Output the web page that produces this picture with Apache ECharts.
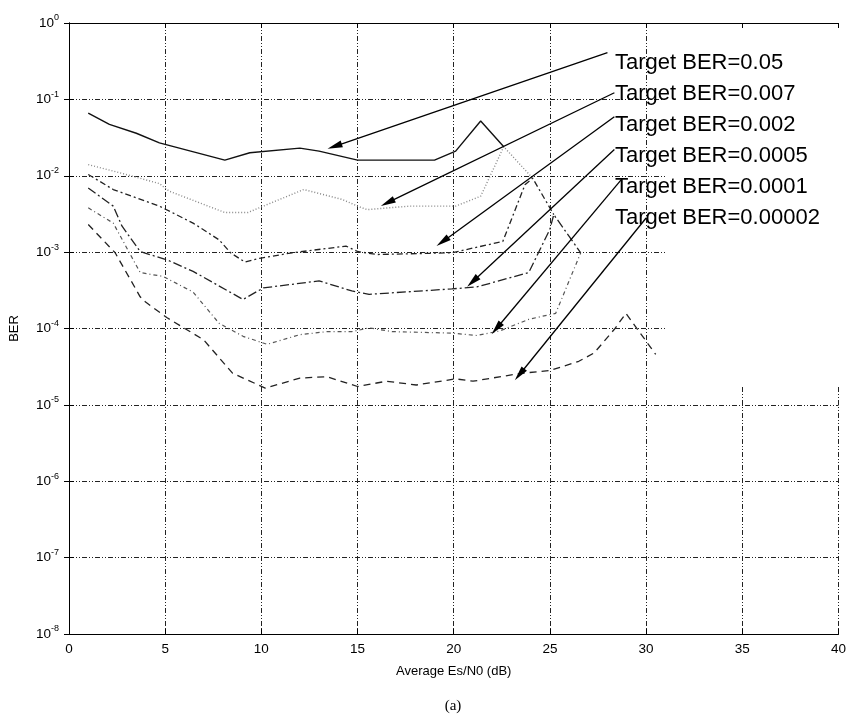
<!DOCTYPE html>
<html>
<head>
<meta charset="utf-8">
<script src="https://cdn.jsdelivr.net/npm/echarts@6/dist/echarts.min.js"></script>
<style>
  html, body { margin: 0; padding: 0; background: #fff; }
  #chart { width: 849px; height: 715px; }
</style>
</head>
<body>
<div id="chart"></div>
<script>
// BER vs average Es/N0, one curve per target BER
const ber005X = [1.0, 2.1, 3.5, 4.7, 8.1, 9.4, 12.0, 13.0, 15.0, 17.3, 19.0, 20.1, 21.4, 22.6];
const ber005Y = [0.066, 0.047, 0.036, 0.027, 0.016, 0.020, 0.023, 0.021, 0.016, 0.016, 0.016, 0.021, 0.052, 0.024];

const ber0007X = [1.0, 2.6, 4.7, 5.2, 8.1, 9.3, 10.1, 12.2, 14.2, 15.0, 15.5, 17.7, 20.1, 21.4, 22.6, 24.1];
const ber0007Y = [0.014, 0.011, 0.0079, 0.0063, 0.0033, 0.0033, 0.0040, 0.0066, 0.0049, 0.0040, 0.0036, 0.0040, 0.0040, 0.0054, 0.024, 0.0093];

const ber0002X = [1.0, 2.3, 4.7, 6.45, 7.8, 8.4, 9.15, 9.9, 11.6, 14.4, 15.0, 16.0, 19.9, 22.55, 23.7, 24.1, 25.2];
const ber0002Y = [0.0104, 0.0066, 0.0040, 0.0024, 0.00145, 0.00098, 0.00074, 0.00083, 0.00098, 0.0012, 0.00102, 0.00093, 0.00098, 0.00138, 0.0076, 0.0093, 0.0031];

const ber00005X = [1.0, 2.3, 2.75, 3.7, 4.2, 5.1, 6.45, 9.05, 10.1, 13.0, 14.7, 15.6, 19.9, 21.2, 23.9, 25.0, 25.2, 26.6];
const ber00005Y = [0.0069, 0.0040, 0.0022, 0.00102, 0.00093, 0.00079, 0.00056, 0.00024, 0.00034, 0.00042, 0.00031, 0.00028, 0.00033, 0.00035, 0.00054, 0.0020, 0.0031, 0.00098];

const ber00001X = [1.0, 2.3, 3.7, 4.9, 6.45, 7.8, 9.05, 10.3, 12.0, 13.4, 14.7, 15.6, 16.8, 19.9, 21.2, 22.4, 23.9, 25.3, 26.6];
const ber00001Y = [0.0038, 0.0024, 0.00054, 0.00048, 0.00030, 0.000117, 0.000079, 0.000062, 0.000083, 0.000091, 0.000091, 0.000102, 0.000091, 0.000087, 0.000081, 0.000093, 0.000132, 0.000158, 0.00098];

const ber000002X = [1.0, 2.4, 3.7, 4.0, 5.1, 7.0, 8.5, 10.2, 12.0, 13.4, 15.0, 16.5, 18.05, 20.1, 21.0, 23.4, 25.0, 26.5, 27.3, 28.35, 28.95, 30.5];
const ber000002Y = [0.0023, 0.00098, 0.00026, 0.00022, 0.000138, 0.000071, 0.000026, 0.0000166, 0.0000224, 0.0000234, 0.0000174, 0.0000204, 0.0000182, 0.0000219, 0.0000204, 0.0000257, 0.0000282, 0.0000372, 0.0000479, 0.0000977, 0.000158, 0.0000457];

// annotation texts and arrows (tail near the text, head on the curve), in data units
const targetLabels = ['Target BER=0.05', 'Target BER=0.007', 'Target BER=0.002',
                      'Target BER=0.0005', 'Target BER=0.0001', 'Target BER=0.00002'];
const arrowFrom = [[27.99, 0.41], [28.35, 0.122], [28.35, 0.0594], [28.35, 0.022], [28.71, 0.0089], [30.0, 0.0028]];
const arrowTo = [[13.81, 0.0243], [16.56, 0.00445], [19.42, 0.00137], [20.98, 0.00041], [22.22, 0.0001], [23.42, 0.000025]];

const xTicks = { min: 0, max: 40, interval: 5 };

const FONT = 'Liberation Sans, Arial, Helvetica, sans-serif';
const GRID_DASH = [5, 2, 1, 2, 1, 2];

const zip = (xs, ys) => xs.map((x, i) => [x, ys[i]]);

const curves = [
  { x: ber005X, y: ber005Y, color: '#111', type: 'solid', width: 1.4 },
  { x: ber0007X, y: ber0007Y, color: '#888', type: [1, 2], width: 1.4 },
  { x: ber0002X, y: ber0002Y, color: '#222', type: [6, 3, 2, 3], width: 1.3 },
  { x: ber00005X, y: ber00005Y, color: '#222', type: [9, 3, 2, 3], width: 1.3 },
  { x: ber00001X, y: ber00001Y, color: '#555', type: [4, 3, 1, 3], width: 1.2 },
  { x: ber000002X, y: ber000002Y, color: '#222', type: [7, 5], width: 1.3 },
];

const series = curves.map(c => ({
  type: 'line',
  data: zip(c.x, c.y),
  symbol: 'none',
  silent: true,
  lineStyle: { color: c.color, width: c.width, type: c.type },
  z: 3,
}));

series.push({
  type: 'line',
  data: [],
  silent: true,
  markLine: {
    silent: true,
    symbol: ['none', 'triangle'],
    symbolSize: [7, 15],
    label: { show: false },
    lineStyle: { color: '#000', width: 1.3, type: 'solid' },
    data: arrowFrom.map((p, i) => [{ coord: p }, { coord: arrowTo[i] }]),
  },
  z: 4,
});

const supLabel = v => {
  const e = Math.round(Math.log10(v));
  return '{b|10}{s|' + e + '}';
};

const chart = echarts.init(document.getElementById('chart'), null, { renderer: 'canvas' });

chart.setOption({
  backgroundColor: '#fff',
  animation: false,
  grid: { left: 69, right: 10, top: 23, bottom: 81 },
  xAxis: [{
    type: 'value',
    min: xTicks.min, max: xTicks.max, interval: xTicks.interval,
    name: 'Average Es/N0 (dB)',
    nameLocation: 'middle',
    nameGap: 31,
    nameTextStyle: { fontFamily: FONT, fontSize: 13, color: '#000' },
    axisLine: { lineStyle: { color: '#000', width: 1 } },
    axisTick: { inside: true, length: 5, lineStyle: { color: '#000' } },
    axisLabel: { fontFamily: FONT, fontSize: 13.5, color: '#000', margin: 8 },
    splitLine: { show: true, lineStyle: { color: '#222', width: 1, type: GRID_DASH } },
    z: 0,
  }, {
    type: 'value', position: 'top',
    min: xTicks.min, max: xTicks.max, interval: xTicks.interval,
    axisLine: { show: true, onZero: false, lineStyle: { color: '#000', width: 1 } },
    axisTick: { inside: true, length: 5, lineStyle: { color: '#000' } },
    axisLabel: { show: false },
    splitLine: { show: false },
    z: 6,
  }],
  yAxis: [{
    type: 'log', logBase: 10,
    min: 1e-8, max: 1, splitNumber: 8,
    name: 'BER',
    nameLocation: 'middle',
    nameGap: 48,
    nameRotate: 90,
    nameTextStyle: { fontFamily: FONT, fontSize: 13, color: '#000' },
    axisLine: { show: true, lineStyle: { color: '#000', width: 1 } },
    axisTick: { show: true, inside: true, length: 5, lineStyle: { color: '#000' } },
    minorTick: { show: false },
    axisLabel: {
      formatter: supLabel,
      margin: 10,
      rich: {
        b: { fontFamily: FONT, fontSize: 13.5, color: '#000' },
        s: { fontFamily: FONT, fontSize: 9, color: '#000', verticalAlign: 'top', padding: [0, 0, 10, 0] },
      },
    },
    splitLine: { show: true, lineStyle: { color: '#222', width: 1, type: GRID_DASH } },
    z: 0,
  }, {
    type: 'log', logBase: 10, position: 'right',
    min: 1e-8, max: 1, splitNumber: 8,
    axisLine: { show: true, lineStyle: { color: '#000', width: 1 } },
    axisTick: { show: true, inside: true, length: 5, lineStyle: { color: '#000' } },
    axisLabel: { show: false },
    splitLine: { show: false },
    z: 0,
  }],
  series,
  graphic: [
    // legend-style white panel that hides the grid in the upper right corner
    { type: 'rect', z: 1, silent: true, shape: { x: 667, y: 24, width: 182, height: 361 },
      style: { fill: '#fff' } },
    ...targetLabels.map((t, i) => ({
      type: 'text', z: 10, silent: true,
      x: 615, y: 63 + i * 31,
      style: { text: t, fontFamily: FONT, fontSize: 22, fill: '#000', verticalAlign: 'middle' },
    })),
    { type: 'text', z: 10, silent: true, x: 453, y: 706,
      style: { text: '(a)', fontFamily: 'Liberation Serif, Times New Roman, serif', fontSize: 15,
               fill: '#000', align: 'center', verticalAlign: 'middle' } },
  ],
});
</script>
</body>
</html>
